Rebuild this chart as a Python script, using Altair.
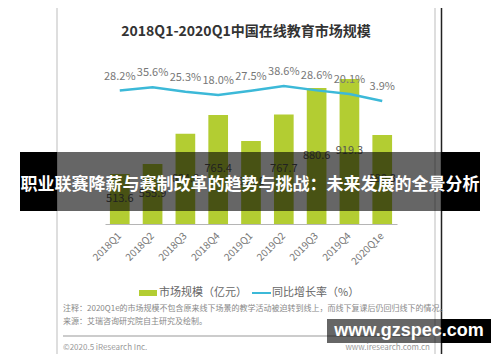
import altair as alt
import pandas as pd

# ---- data ----
categories = ["2018Q1", "2018Q2", "2018Q3", "2018Q4", "2019Q1",
              "2019Q2", "2019Q3", "2019Q4", "2020Q1e"]
market_size = [513.6, 555.9, 684.8, 765.4, 654.8, 767.7, 880.6, 919.3, 680.3]
growth_rate = [28.2, 35.6, 25.3, 18.0, 27.5, 38.6, 28.6, 20.1, 3.9]

title_text = "2018Q1-2020Q1中国在线教育市场规模"
legend_bar = "市场规模（亿元）"
legend_line = "同比增长率（%）"
note_text = "注释：2020Q1e的市场规模不包含原来线下场景的教学活动被迫转到线上，而线下复课后仍回归线下的情况。"
source_text = "来源：艾瑞咨询研究院自主研究及绘制。"
copyright_text = "©2020.5 iResearch Inc."
site_text = "www.iresearch.com.cn"
banner_text = "职业联赛降薪与赛制改革的趋势与挑战：未来发展的全景分析"
watermark_text = "www.gzspec.com"

BAR_COLOR = "#b3cd32"
LINE_COLOR = "#3cb9d8"
CJK = "Noto Sans CJK SC"
BAR_BASE = 300
BAR_DOMAIN = [300, 1000]
LINE_DOMAIN = [-281, 99]

df = pd.DataFrame({"quarter": categories, "market": market_size, "growth": growth_rate})
one = pd.DataFrame({"k": [0]})

x_enc = alt.X(
    "quarter:N", sort=categories,
    scale=alt.Scale(paddingInner=0.4, paddingOuter=0.15),
    axis=alt.Axis(title=None, labelAngle=-45, labelAlign="right", labelBaseline="middle",
                  ticks=False, domainColor="#b5b5b5", domainWidth=1, labelColor="#777",
                  labelFont=CJK, labelFontSize=10, labelPadding=10),
)

base = alt.Chart(df)

bars = base.mark_bar(color=BAR_COLOR).encode(
    x=x_enc,
    y=alt.Y("market:Q", scale=alt.Scale(domain=BAR_DOMAIN, zero=False), axis=None),
    y2=alt.datum(BAR_BASE),
)

bar_labels = base.transform_calculate(
    mid=f"(datum.market + {BAR_BASE}) / 2",
    mlabel="format(datum.market, '.1f')",
).mark_text(font=CJK, fontSize=11, color="#555").encode(
    x=x_enc,
    y=alt.Y("mid:Q", scale=alt.Scale(domain=BAR_DOMAIN, zero=False), axis=None),
    text="mlabel:N",
)

line = base.mark_line(color=LINE_COLOR, strokeWidth=2.5).encode(
    x=x_enc,
    y=alt.Y("growth:Q", scale=alt.Scale(domain=LINE_DOMAIN, zero=False), axis=None),
)

line_labels = base.transform_calculate(
    glabel="format(datum.growth, '.1f') + '%'"
).mark_text(font=CJK, fontSize=11, color="#777", dy=-14).encode(
    x=x_enc,
    y=alt.Y("growth:Q", scale=alt.Scale(domain=LINE_DOMAIN, zero=False), axis=None),
    text="glabel:N",
)


def rect(x1, x2, y1, y2, fill, opacity=1.0, stroke=None):
    kw = dict(fill=fill, opacity=opacity)
    if stroke:
        kw.update(stroke=stroke, strokeWidth=1)
    return alt.Chart(one).mark_rect(**kw).encode(
        x=alt.value(x1), x2=alt.value(x2), y=alt.value(y1), y2=alt.value(y2))


def rule(x1, x2, y1, y2, color, width=1.0):
    return alt.Chart(one).mark_rule(color=color, strokeWidth=width).encode(
        x=alt.value(x1), x2=alt.value(x2), y=alt.value(y1), y2=alt.value(y2))


def label(s, x, y, size, color, weight="normal", align="left", font=CJK):
    return alt.Chart(one).mark_text(
        text=s, fontSize=size, color=color, fontWeight=weight, align=align,
        baseline="middle", font=font,
    ).encode(x=alt.value(x), y=alt.value(y))


# frame of the embedded picture and the page line
frame = rect(-48, 330, -60, 298, "transparent", stroke="#bdbdbd")
page_line = rule(336.5, 336.5, -60, 300, "#222", 1.5)

title = label(title_text, 141, -28, 14, "#333", weight="bold", align="center")

legend = [
    rect(34, 52, 230, 236, BAR_COLOR),
    label(legend_bar, 54, 233, 11, "#666"),
    rule(147, 166, 233, 233, LINE_COLOR, 2),
    label(legend_line, 167, 233, 11, "#666"),
]

notes = [
    label(note_text, -42, 249, 8, "#888"),
    label(source_text, -42, 262, 8, "#888"),
    rule(-42, 325, 276, 276, "#999", 1),
    label(copyright_text, -42, 288, 8, "#999"),
    label(site_text, 325, 288, 8, "#999", align="right"),
]

banner = [
    rect(-85, -48, 92, 151, "black"),
    rect(-48, 336, 92, 151, "black", opacity=0.6),
    rect(336, 375, 92, 151, "black"),
    label(banner_text, 145, 125, 17, "white", weight="bold", align="center"),
]

watermark = [
    rect(222, 336, 259, 283, "black", opacity=0.6),
    rect(336, 386, 259, 283, "black"),
    label(watermark_text, 304, 271, 18, "white", weight="bold", align="center",
          font="Liberation Sans"),
]

chart = alt.layer(
    frame, page_line, bars, bar_labels, line, line_labels, title,
    *legend, *notes, *banner, *watermark,
).resolve_scale(y="independent").properties(
    width=292, height=164,
    autosize=alt.AutoSizeParams(type="none"),
    padding={"left": 97, "top": 52, "right": 95, "bottom": 130},
    background="white",
).configure_view(stroke=None)

chart.save("out.html", embed_options={"renderer": "svg", "actions": False})
